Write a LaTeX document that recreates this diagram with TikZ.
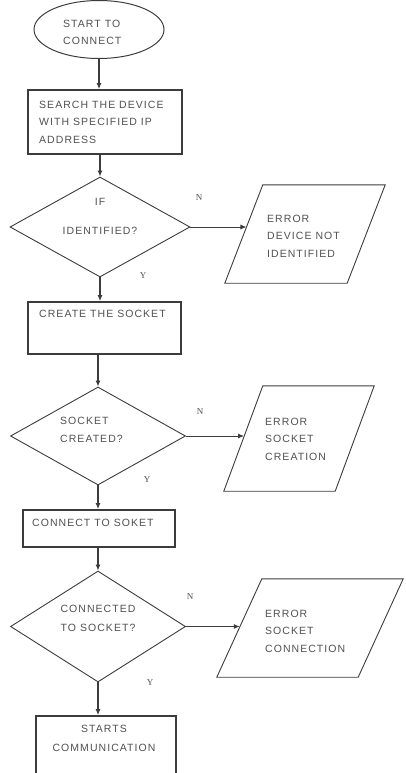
\documentclass[tikz,border=0pt]{standalone}
\usepackage{fontspec}
\setmainfont{Liberation Sans}[LetterSpace=10]
\newfontfamily\ynfont{Liberation Serif}
\usepackage{tikz}
\usetikzlibrary{arrows.meta, positioning, shapes.geometric}
\definecolor{linegray}{RGB}{60,60,60}
\definecolor{textgray}{RGB}{80,80,80}

\begin{document}
\begin{tikzpicture}[x=1pt, y=-1pt,
    startstop/.style={draw=linegray, ellipse, line width=1pt, inner sep=0pt},
    procbox/.style={draw=linegray, rectangle, line width=1.6pt, inner sep=0pt},
    decision/.style={draw=linegray, diamond, line width=0.9pt, inner sep=0pt},
    iobox/.style={rectangle, inner sep=0pt},
    ioline/.style={draw=linegray, line width=0.9pt, line join=miter},
    label text/.style={textgray, font=\fontsize{10.5}{17.5}\selectfont, inner sep=0pt},
    yn/.style={textgray, font=\ynfont\fontsize{9}{10}\selectfont, inner sep=0pt},
    flow/.style={-{Latex[length=6pt,width=5pt]}, linegray, line width=1.5pt},
    side/.style={-{Latex[length=6pt,width=5pt]}, linegray, line width=0.9pt}]
    \useasboundingbox (0,0) rectangle (405,773);

    % Draw the flow shapes
    \node[startstop, minimum width=130pt, minimum height=58pt] (start) at (99,29.5) {};
    \node[procbox, minimum width=154pt, minimum height=64pt] (search) at (105,122) {};
    \node[decision, minimum width=180pt, minimum height=100pt] (ifid) at (100,227) {};
    \node[iobox, minimum width=160pt, minimum height=98pt] (errdev) at (305,234) {};
    \node[procbox, minimum width=153pt, minimum height=52pt] (create) at (104.5,328) {};
    \node[decision, minimum width=175pt, minimum height=98pt] (created) at (98,436) {};
    \node[iobox, minimum width=150pt, minimum height=105pt] (errcreate) at (299,438.5) {};
    \node[procbox, minimum width=152pt, minimum height=37pt] (connect) at (99,528.5) {};
    \node[decision, minimum width=175pt, minimum height=111pt] (connected) at (98,626.5) {};
    \node[iobox, minimum width=186pt, minimum height=98pt] (errconn) at (310,628) {};
    \node[procbox, minimum width=140pt, minimum height=66pt] (comm) at (106,749) {};

    % Slanted sides of the error boxes
    \draw[ioline] (errdev.south west) -- coordinate[pos=0.57] (errdevin) ([xshift=38pt]errdev.north west)
        -- (errdev.north east) -- ([xshift=-38pt]errdev.south east) -- cycle;
    \draw[ioline] (errcreate.south west) -- coordinate[pos=0.52] (errcreatein) ([xshift=39pt]errcreate.north west)
        -- (errcreate.north east) -- ([xshift=-39pt]errcreate.south east) -- cycle;
    \draw[ioline] (errconn.south west) -- coordinate[pos=0.51] (errconnin) ([xshift=45pt]errconn.north west)
        -- (errconn.north east) -- ([xshift=-45pt]errconn.south east) -- cycle;

    % Texts in the shapes
    \node[label text, anchor=base west, align=left] (startlbl) at (63,45) {START TO\\CONNECT};
    \node[label text, anchor=base west, align=left] (searchlbl) at (39,143) {SEARCH THE DEVICE\\WITH SPECIFIED IP\\ADDRESS};
    \node[label text, anchor=base, align=center] (ifidlbl) at (100,234) {IF\\[11.5pt]IDENTIFIED?};
    \node[label text, anchor=base west, align=left] (errdevlbl) at (267,257) {ERROR\\DEVICE NOT\\IDENTIFIED};
    \node[label text, anchor=base west, align=left] (createlbl) at (39,317) {CREATE THE SOCKET};
    \node[label text, anchor=base west, align=left] (createdlbl) at (60,442) {SOCKET\\CREATED?};
    \node[label text, anchor=base west, align=left] (errcreatelbl) at (265,460) {ERROR\\SOCKET\\CREATION};
    \node[label text, anchor=base west, align=left] (connectlbl) at (32,526) {CONNECT TO SOKET};
    \node[label text, anchor=base, align=center] (connectedlbl) at (98,631) {CONNECTED\\[1.5pt]TO SOCKET?};
    \node[label text, anchor=base west, align=left] (errconnlbl) at (265,652) {ERROR\\SOCKET\\CONNECTION};
    \node[label text, anchor=base, align=center] (commlbl) at (104,751) {STARTS\\[1pt]COMMUNICATION};

    % Yes / No marks
    \node[yn] (n1) at (199,198) {N};
    \node[yn] (y1) at (143,276) {Y};
    \node[yn] (n2) at (200,412) {N};
    \node[yn] (y2) at (147,480) {Y};
    \node[yn] (n3) at (190,597) {N};
    \node[yn] (y3) at (150,683) {Y};

    % Arrows
    \draw[flow] (start) -- (start |- search.north);
    \draw[flow] (search.south -| ifid.north) -- (ifid);
    \draw[flow] (ifid) -- (ifid |- create.north);
    \draw[flow] (create.south -| created.north) -- (created);
    \draw[flow] (created) -- (created |- connect.north);
    \draw[flow] (connect.south -| connected.north) -- (connected);
    \draw[flow] (connected) -- (connected |- comm.north);
    \draw[side] (ifid.east) -- (ifid.east -| errdevin);
    \draw[side] (created.east) -- (created.east -| errcreatein);
    \draw[side] (connected.east) -- (connected.east -| errconnin);
\end{tikzpicture}
\end{document}
